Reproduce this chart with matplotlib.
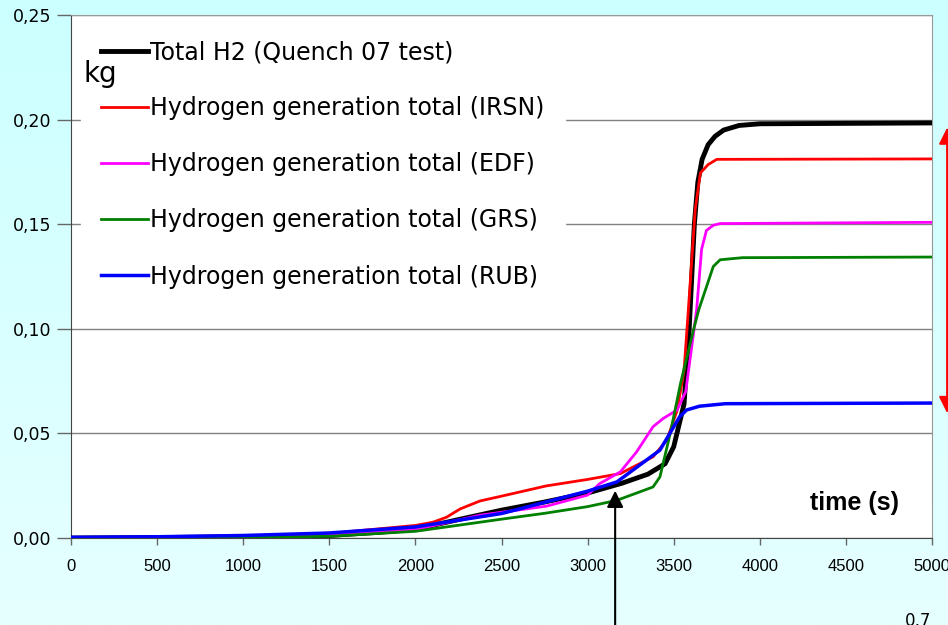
import numpy as np
import matplotlib
matplotlib.use("Agg")
import matplotlib.pyplot as plt
from matplotlib.colors import LinearSegmentedColormap

# -------------------------------
# Data
# -------------------------------

labels = [
    "Total H2 (Quench 07 test)",
    "Hydrogen generation total (IRSN)",
    "Hydrogen generation total (EDF)",
    "Hydrogen generation total (GRS)",
    "Hydrogen generation total (RUB)",
]

t_total = [0, 500, 1000, 1500, 1800, 2000, 2250, 2500, 2750, 3000, 3200, 3350,
           3450, 3500, 3560, 3590, 3620, 3640, 3665, 3700, 3740, 3790, 3880,
           4000, 5000]
h2_total = [0.0, 0.0002, 0.0006, 0.0012, 0.0028, 0.0042, 0.0088, 0.0133, 0.0172,
            0.0215, 0.0262, 0.0305, 0.0355, 0.0436, 0.0640, 0.1000, 0.1500,
            0.1700, 0.1810, 0.1880, 0.1920, 0.1950, 0.1972, 0.1980, 0.1984]

t_irsn = [0, 500, 1000, 1500, 2000, 2100, 2180, 2260, 2375, 2500, 2760, 3000,
          3190, 3380, 3460, 3520, 3560, 3585, 3625, 3655, 3700, 3750, 5000]
h2_irsn = [0.0, 0.0003, 0.0008, 0.0022, 0.0060, 0.0075, 0.0099, 0.0139, 0.0177,
           0.0200, 0.0249, 0.0280, 0.0308, 0.0388, 0.0468, 0.0610, 0.0800,
           0.1090, 0.1570, 0.1745, 0.1785, 0.1810, 0.1812]

t_edf = [0, 500, 1000, 1500, 2000, 2375, 2760, 3000, 3070, 3190, 3285, 3380,
         3440, 3520, 3570, 3633, 3662, 3690, 3730, 3770, 5000]
h2_edf = [0.0, 0.0002, 0.0006, 0.0015, 0.0040, 0.0109, 0.0152, 0.0205, 0.0260,
          0.0316, 0.0412, 0.0532, 0.0572, 0.0612, 0.0700, 0.1090, 0.1380,
          0.1470, 0.1495, 0.1503, 0.1509]

t_grs = [0, 500, 1000, 1500, 2000, 2500, 2750, 3000, 3170, 3380, 3420, 3480,
         3540, 3615, 3645, 3690, 3730, 3770, 3900, 5000]
h2_grs = [0.0, 0.0001, 0.0003, 0.0008, 0.0032, 0.0090, 0.0118, 0.0150, 0.0180,
          0.0244, 0.0292, 0.0500, 0.0740, 0.0995, 0.1090, 0.1200, 0.1298,
          0.1330, 0.1340, 0.1343]

t_rub = [0, 500, 1000, 1500, 2000, 2500, 2600, 3000, 3170, 3420, 3535, 3575,
         3650, 3800, 5000]
h2_rub = [0.0003, 0.0006, 0.0012, 0.0024, 0.0053, 0.0117, 0.0138, 0.0224,
          0.0268, 0.0420, 0.0580, 0.0612, 0.0630, 0.0642, 0.0645]

x_ticks = [0, 500, 1000, 1500, 2000, 2500, 3000, 3500, 4000, 4500, 5000]
y_ticks = [0.00, 0.05, 0.10, 0.15, 0.20, 0.25]
y_tick_labels = ["0,00", "0,05", "0,10", "0,15", "0,20", "0,25"]

# -------------------------------
# Figure
# -------------------------------

fig = plt.figure(figsize=(9.48, 6.25), dpi=100)

# light cyan background, slightly darker at the top
bg = fig.add_axes([0, 0, 1, 1], zorder=-10)
bg_cmap = LinearSegmentedColormap.from_list("bg", ["#E6FFFF", "#CCFFFF"])
bg.imshow(np.linspace(0, 1, 256).reshape(-1, 1), aspect="auto", cmap=bg_cmap,
          origin="lower", extent=[0, 1, 0, 1])
bg.axis("off")

ax = fig.add_axes([71 / 948, 87 / 625, 861 / 948, 523 / 625])
ax.set_facecolor("white")

ax.plot(t_total, h2_total, color="black", lw=3.5, label=labels[0], zorder=3)
ax.plot(t_irsn, h2_irsn, color="#FF0000", lw=2, label=labels[1], zorder=4)
ax.plot(t_edf, h2_edf, color="#FF00FF", lw=2, label=labels[2], zorder=4)
ax.plot(t_grs, h2_grs, color="#008000", lw=2, label=labels[3], zorder=4)
ax.plot(t_rub, h2_rub, color="#0000FF", lw=2.5, label=labels[4], zorder=4)

ax.set_xlim(0, 5000)
ax.set_ylim(0, 0.25)

ax.set_xticks(x_ticks)
ax.set_xticklabels([str(v) for v in x_ticks], family="Liberation Sans",
                   fontsize=12)
ax.set_yticks(y_ticks)
ax.set_yticklabels(y_tick_labels, family="DejaVu Sans", fontsize=12.5)

ax.tick_params(axis="x", direction="out", length=5, width=1, color="#666666",
               pad=10)
ax.tick_params(axis="y", direction="out", length=10, width=1, color="#666666",
               pad=4)

ax.grid(axis="y", color="#808080", lw=1)
ax.set_axisbelow(True)

for side in ["top", "right"]:
    ax.spines[side].set_color("#999999")
for side in ["left", "bottom"]:
    ax.spines[side].set_color("#444444")

leg = ax.legend(loc="upper left", bbox_to_anchor=(10 / 861, 1 - 5 / 523),
                fontsize=17, frameon=True, fancybox=False, framealpha=1,
                edgecolor="white", facecolor="white", borderpad=0.85,
                handlelength=2.0, handletextpad=0.08, labelspacing=1.36,
                borderaxespad=0)
leg.set_zorder(5)
for txt in leg.get_texts():
    txt.set_family("DejaVu Sans")

ax.text(12 / 861, 1 - 59 / 523, "kg", transform=ax.transAxes, fontsize=20,
        family="DejaVu Sans", ha="left", va="center", zorder=6)

ax.text(4550, 0.0165, "time (s)", family="Liberation Sans", fontsize=18,
        fontweight="bold", ha="center", va="center")

# arrow pointing at the curves from below
ax.annotate("", xy=(3160, 0.0226), xytext=(3160, -0.06),
            arrowprops=dict(arrowstyle="-|>", color="black", lw=1.5,
                            mutation_scale=25, shrinkA=0, shrinkB=0),
            annotation_clip=False, zorder=6)

# red double arrow at the right edge
ax.annotate("", xy=(5088, 0.1962), xytext=(5088, 0.0597),
            arrowprops=dict(arrowstyle="<|-|>", color="#FF0000", lw=1.5,
                            mutation_scale=25, shrinkA=0, shrinkB=0),
            annotation_clip=False)

fig.text(905 / 948, 1 - 612 / 625, "0,7", family="DejaVu Sans", fontsize=12,
         ha="left", va="top")

plt.savefig("out.png", dpi=100)
plt.close()
